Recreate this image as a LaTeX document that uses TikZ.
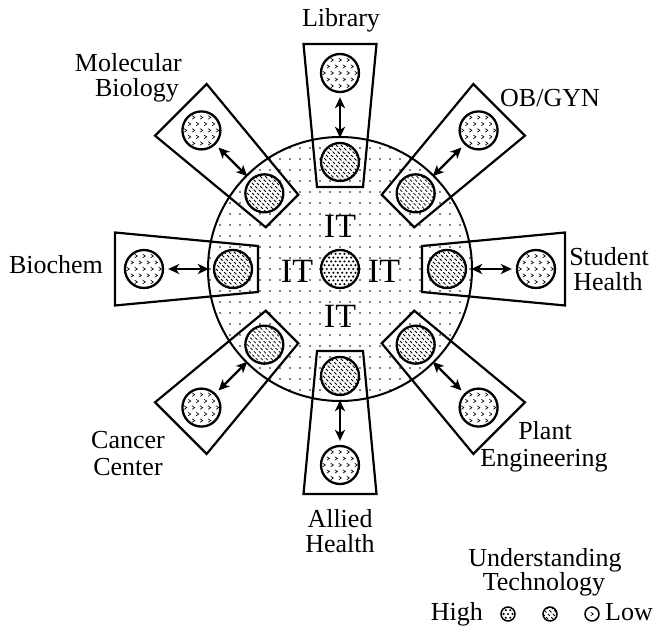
\documentclass[tikz,border=0pt]{standalone}
\usepackage{fontspec}
\setmainfont{Liberation Serif}
\usetikzlibrary{arrows.meta,calc}
\newcommand\hubdots{%
  \begin{scope}[shift={(path picture bounding box.center)}]
    \foreach \j in {-12,...,12}{\foreach \i in {-13,...,13}{\fill[black] (\i*10,\j*11) circle (0.8);}}
  \end{scope}}
\newcommand\hatchpat{%
  \begin{scope}[shift={(path picture bounding box.center)}]
    \foreach \k in {-42,-37,...,42}{\draw[black, line width=0.75pt, dash pattern=on 3pt off 1.8pt] (\k-24,24) -- (\k+24,-24);}
  \end{scope}}
\newcommand\chevpat{%
  \begin{scope}[shift={(path picture bounding box.center)}]
    \foreach \j in {-3,...,3}{\foreach \i in {-3,...,3}{%
      \pgfmathsetmacro\cx{\i*8+mod(abs(\j),2)*4}\pgfmathsetmacro\cy{\j*6.5}%
      \draw[black, line width=0.65pt] (\cx-1.2,\cy+1.7) -- (\cx+1.3,\cy) -- (\cx-1.2,\cy-1.7);}}
  \end{scope}}
\newcommand\stipplepat{%
  \begin{scope}[shift={(path picture bounding box.center)}]
    \foreach \j in {-6,...,6}{\foreach \i in {-6,...,6}{%
      \pgfmathsetmacro\cx{\i*4.4+mod(abs(\j),2)*2.2}\pgfmathsetmacro\cy{\j*3.8}%
      \fill[black] (\cx,\cy) circle (1.15);}}
  \end{scope}}
\tikzset{
  lab/.style={font=\fontsize{26}{26}\selectfont, inner sep=0pt},
  itlab/.style={font=\fontsize{34}{34}\selectfont, inner sep=0pt},
  spokebox/.style={line width=2.2pt, line join=miter},
  hubc/.style={circle, draw, line width=2pt, minimum size=264pt, inner sep=0pt, path picture={\hubdots}},
  roundc/.style={circle, draw, line width=2.3pt, minimum size=38pt, inner sep=0pt, fill=white},
  itc/.style={roundc, path picture={\hatchpat}},
  dept/.style={roundc, path picture={\chevpat}},
  corec/.style={roundc, path picture={\stipplepat}},
  legc/.style={circle, draw, line width=1.5pt, minimum size=14pt, inner sep=0pt, fill=white},
  link/.style={{Stealth[length=11pt,width=10pt,inset=3pt]}-{Stealth[length=11pt,width=10pt,inset=3pt]}, line width=2.4pt, shorten <=4pt, shorten >=4pt},
}
\begin{document}
\begin{tikzpicture}[x=1pt,y=1pt]
\useasboundingbox (0,0) rectangle (653,-631);
\fill[white] (0,0) rectangle (653,-631);
\node[hubc] (hub) at (340,-269) {};
\foreach \a/\n in {90/1,45/2,0/3,-45/4,-90/5,-135/6,180/7,135/8}{
  \draw[spokebox] ($(hub.center)+(\a:82)+({\a+90}:23)$) -- ($(hub.center)+(\a:225)+({\a+90}:36.5)$)
     -- ($(hub.center)+(\a:225)+({\a-90}:36.5)$) -- ($(hub.center)+(\a:82)+({\a-90}:23)$) -- cycle;
  \node[itc] (in\n) at ($(hub.center)+(\a:107)$) {};
  \node[dept] (out\n) at ($(hub.center)+(\a:196)$) {};
  \draw[link] (in\n) -- (out\n);
}
\node[corec] (core) at (hub.center) {};
\node[itlab, anchor=base] (itn) at (340,-237) {IT};
\node[itlab, anchor=base] (its) at (340,-327) {IT};
\node[itlab, anchor=base] (itw) at (297,-282) {IT};
\node[itlab, anchor=base] (ite) at (384,-282) {IT};
\node[lab, anchor=base] (lib) at (341,-27) {Library};
\node[lab, anchor=base east] (mol1) at (182,-72) {Molecular};
\node[lab, anchor=base east] (mol2) at (179,-97) {Biology};
\node[lab, anchor=base west] (obg) at (500,-107) {OB/GYN};
\node[lab, anchor=base] (bio) at (56,-273) {Biochem};
\node[lab, anchor=base] (stu1) at (609,-265) {Student};
\node[lab, anchor=base] (stu2) at (608,-290) {Health};
\node[lab, anchor=base] (pla1) at (545,-439) {Plant};
\node[lab, anchor=base] (pla2) at (544,-466) {Engineering};
\node[lab, anchor=base] (can1) at (128,-448) {Cancer};
\node[lab, anchor=base] (can2) at (128,-475) {Center};
\node[lab, anchor=base] (all1) at (340,-527) {Allied};
\node[lab, anchor=base] (all2) at (340,-552) {Health};
\node[lab, anchor=base] (und) at (545,-566) {Understanding};
\node[lab, anchor=base] (tec) at (544,-590) {Technology};
\node[lab, anchor=base east] (hi) at (483,-620) {High};
\node[lab, anchor=base west] (lo) at (605,-620) {Low};
\node[legc, path picture={\stipplepat}] (lg1) at (508,-614) {};
\node[legc, path picture={\hatchpat}] (lg2) at (550,-614) {};
\node[legc, path picture={\chevpat}] (lg3) at (592,-614) {};
\end{tikzpicture}
\end{document}
